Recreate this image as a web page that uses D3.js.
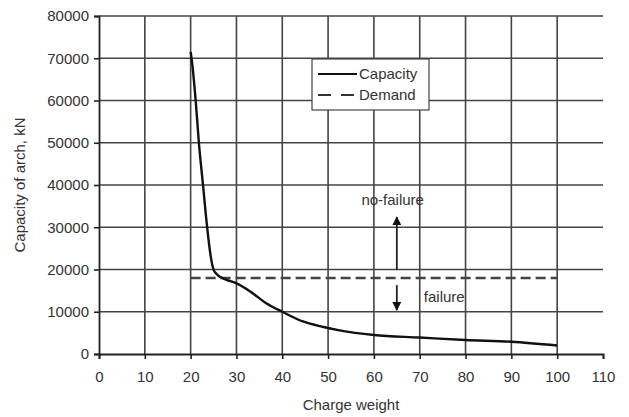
<!DOCTYPE html>
<html>
<head>
<meta charset="utf-8">
<script src="https://cdn.jsdelivr.net/npm/d3@7"></script>
<style>
  body { margin: 0; background: #fff; }
  text { font-family: "Liberation Sans", Arial, sans-serif; fill: #333; }
</style>
</head>
<body>
<svg id="chart" width="629" height="417"></svg>
<script>
// charge weight vs capacity of arch
var capX = [20, 20.2, 21.1, 21.8, 22.7, 23.6, 24.4, 25, 25.6, 26.5, 28, 30, 33, 36.5, 40, 44.5, 49, 52.5, 60, 70, 80, 90, 100]
var capY = [71500, 70000, 60000, 50000, 40000, 30000, 23000, 20000, 19000, 18200, 17500, 16700, 14800, 12000, 10000, 7700, 6400, 5600, 4500, 3900, 3300, 2900, 2000]
var demandX = [20, 100]
var demandY = [18000, 18000]
var xTicks = d3.range(0, 111, 10)
var yTicks = d3.range(0, 80001, 10000)

var margin = {left: 99, top: 16, right: 26, bottom: 63}
var w = 629, h = 417
var svg = d3.select('#chart')

var x = d3.scaleLinear().domain([0, 110]).range([margin.left, w - margin.right])
var y = d3.scaleLinear().domain([0, 80000]).range([h - margin.bottom, margin.top])

// grid
svg.append('g').selectAll('line.vg').data(xTicks.filter(function(d) { return d > 0 && d < 110 })).enter()
  .append('line')
  .attr('x1', function(d) { return x(d) }).attr('x2', function(d) { return x(d) })
  .attr('y1', y(0)).attr('y2', y(80000))
  .attr('stroke', '#444').attr('stroke-width', 1.6)

svg.append('g').selectAll('line.hg').data(yTicks.filter(function(d) { return d > 0 })).enter()
  .append('line')
  .attr('x1', x(0)).attr('x2', x(110))
  .attr('y1', function(d) { return y(d) }).attr('y2', function(d) { return y(d) })
  .attr('stroke', '#444').attr('stroke-width', 1.6)

// axes
var xAxis = svg.append('g').attr('transform', 'translate(0,' + y(0) + ')')
  .call(d3.axisBottom(x).tickValues(xTicks).tickSize(5).tickPadding(12))
var yAxis = svg.append('g').attr('transform', 'translate(' + x(0) + ',0)')
  .call(d3.axisLeft(y).tickValues(yTicks).tickSize(5).tickPadding(5).tickFormat(d3.format('d')))

;[xAxis, yAxis].forEach(function(a) {
  a.select('.domain').attr('stroke', '#222').attr('stroke-width', 1.8)
  a.selectAll('.tick line').attr('stroke', '#222').attr('stroke-width', 1.6)
  a.selectAll('.tick text').style('font-size', '15px').attr('fill', '#333')
})

// demand line
var line = d3.line().x(function(d) { return x(d[0]) }).y(function(d) { return y(d[1]) })
svg.append('path')
  .datum(d3.zip(demandX, demandY))
  .attr('d', line)
  .attr('fill', 'none').attr('stroke', '#444').attr('stroke-width', 2.4)
  .attr('stroke-dasharray', '10,5')

// capacity curve
svg.append('path')
  .datum(d3.zip(capX, capY))
  .attr('d', line.curve(d3.curveMonotoneX))
  .attr('fill', 'none').attr('stroke', '#111').attr('stroke-width', 2.4)

// arrows
var defs = svg.append('defs')
defs.append('marker').attr('id', 'head')
  .attr('viewBox', '0 0 10 10').attr('refX', 9).attr('refY', 5)
  .attr('markerWidth', 5).attr('markerHeight', 5).attr('orient', 'auto')
  .append('path').attr('d', 'M0,0 L10,5 L0,10 Z').attr('fill', '#111')

var arrows = [[65, 19900, 32400], [65, 16300, 10400]]
svg.append('g').selectAll('line').data(arrows).enter()
  .append('line')
  .attr('x1', function(d) { return x(d[0]) }).attr('x2', function(d) { return x(d[0]) })
  .attr('y1', function(d) { return y(d[1]) }).attr('y2', function(d) { return y(d[2]) })
  .attr('stroke', '#222').attr('stroke-width', 1.8)
  .attr('marker-end', 'url(#head)')

svg.append('text').attr('x', x(64.1)).attr('y', y(35300)).attr('text-anchor', 'middle')
  .style('font-size', '15px').text('no-failure')
svg.append('text').attr('x', x(70.9)).attr('y', y(12300))
  .style('font-size', '15px').text('failure')

// legend
var lg = svg.append('g').attr('transform', 'translate(312,59)')
lg.append('rect').attr('width', 117).attr('height', 51)
  .attr('fill', '#fff').attr('stroke', '#444').attr('stroke-width', 1.2)
lg.append('line').attr('x1', 6).attr('x2', 45).attr('y1', 15).attr('y2', 15)
  .attr('stroke', '#111').attr('stroke-width', 2.2)
lg.append('line').attr('x1', 6).attr('x2', 45).attr('y1', 36).attr('y2', 36)
  .attr('stroke', '#333').attr('stroke-width', 2.2).attr('stroke-dasharray', '13,10')
lg.append('text').attr('x', 47).attr('y', 20).style('font-size', '15px').text('Capacity')
lg.append('text').attr('x', 47).attr('y', 41).style('font-size', '15px').text('Demand')

// axis titles
svg.append('text').attr('x', x(55)).attr('y', 410).attr('text-anchor', 'middle')
  .style('font-size', '15px').text('Charge weight')
svg.append('text').attr('transform', 'translate(25,' + y(40000) + ') rotate(-90)')
  .attr('text-anchor', 'middle').style('font-size', '15px').text('Capacity of arch, kN')
</script>
</body>
</html>
